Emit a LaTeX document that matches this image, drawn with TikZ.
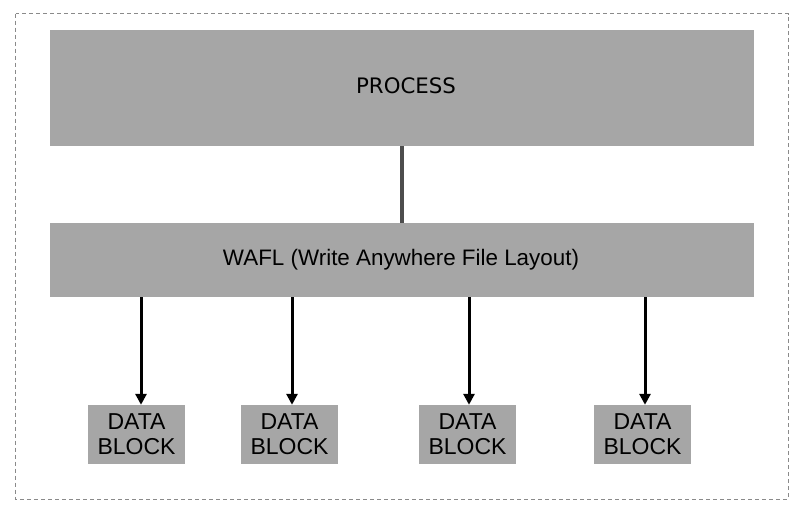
\documentclass[tikz,border=0pt]{standalone}
\usepackage{fontspec}
\setmainfont{Liberation Sans}
\newfontfamily\procfont{DejaVu Sans}
\usetikzlibrary{arrows.meta}
\definecolor{boxgray}{HTML}{A6A6A6}
\definecolor{linkgray}{HTML}{4D4D4D}
\definecolor{framegray}{HTML}{8A8A8A}
\tikzset{
  bigbox/.style={fill=boxgray, draw=none, inner sep=0pt},
  datablock/.style={fill=boxgray, draw=none, minimum width=97pt, minimum height=59pt, inner sep=0pt, align=center, font=\fontsize{23}{25}\selectfont},
  downarrow/.style={line width=3pt, -{Triangle[length=11pt,width=11pt]}},
}
\begin{document}
\begin{tikzpicture}[x=1pt,y=-1pt]
\useasboundingbox (0,0) rectangle (800,512);
\draw[framegray, line width=0.8pt, dash pattern=on 4pt off 3pt] (15.5,13.5) rectangle (788,499);
\node[bigbox, minimum width=704pt, minimum height=116pt] (process) at (402,88) {};
\node[font=\procfont\fontsize{21.3}{24}\selectfont] at ([xshift=4pt,yshift=2pt]process.center) {PROCESS};
\node[bigbox, minimum width=704pt, minimum height=74pt] (wafl) at (402,260) {};
\node[font=\fontsize{22.4}{24}\selectfont] at ([xshift=-1pt]wafl.center) {WAFL (Write Anywhere File Layout)};
\draw[linkgray, line width=4pt] (process.south) -- (wafl.north);
\node[datablock] (d1) at (136.5,434.5) {DATA\\BLOCK};
\node[datablock] (d2) at (289.5,434.5) {DATA\\BLOCK};
\node[datablock] (d3) at (467.5,434.5) {DATA\\BLOCK};
\node[datablock] (d4) at (642.5,434.5) {DATA\\BLOCK};
\draw[downarrow] (wafl.south -| 141,0) -- (d1.north -| 141,0);
\draw[downarrow] (wafl.south -| 292,0) -- (d2.north -| 292,0);
\draw[downarrow] (wafl.south -| 469,0) -- (d3.north -| 469,0);
\draw[downarrow] (wafl.south -| 645,0) -- (d4.north -| 645,0);
\end{tikzpicture}
\end{document}
